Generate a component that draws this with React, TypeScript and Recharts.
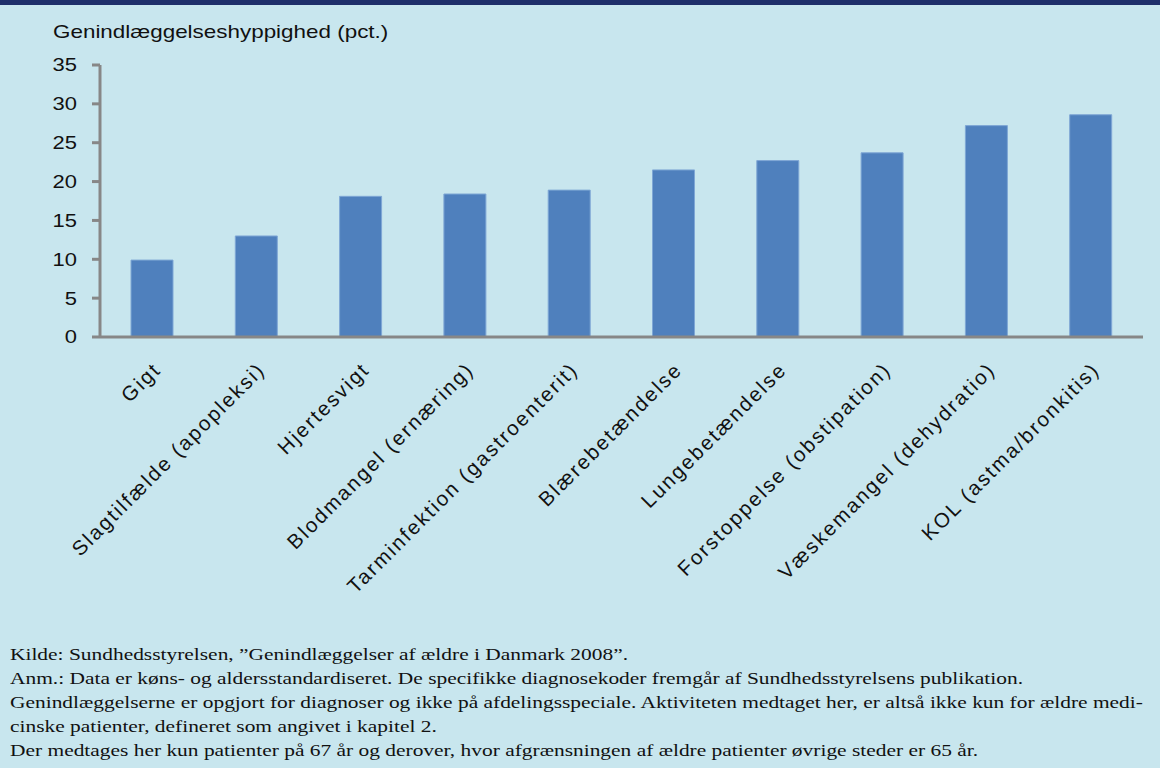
import { BarChart, Bar, XAxis, YAxis } from 'recharts';

const categories = [
  'Gigt',
  'Slagtilfælde (apopleksi)',
  'Hjertesvigt',
  'Blodmangel (ernæring)',
  'Tarminfektion (gastroenterit)',
  'Blærebetændelse',
  'Lungebetændelse',
  'Forstoppelse (obstipation)',
  'Væskemangel (dehydratio)',
  'KOL (astma/bronkitis)',
];
const values = [9.9, 13.0, 18.1, 18.4, 18.9, 21.5, 22.7, 23.7, 27.2, 28.6];
const yTicks = [0, 5, 10, 15, 20, 25, 30, 35];

const yTitle = 'Genindlæggelseshyppighed (pct.)';
const notes = [
  'Kilde: Sundhedsstyrelsen, ”Genindlæggelser af ældre i Danmark 2008”.',
  'Anm.: Data er køns- og aldersstandardiseret. De specifikke diagnosekoder fremgår af Sundhedsstyrelsens publikation.',
  'Genindlæggelserne er opgjort for diagnoser og ikke på afdelingsspeciale. Aktiviteten medtaget her, er altså ikke kun for ældre medi-',
  'cinske patienter, defineret som angivet i kapitel 2.',
  'Der medtages her kun patienter på 67 år og derover, hvor afgrænsningen af ældre patienter øvrige steder er 65 år.',
];

const data = categories.map((name, i) => ({ name, value: values[i] }));

const FONT = '"Liberation Sans", Arial, sans-serif';
const SERIF = '"Liberation Serif", "Times New Roman", serif';
const AXIS = '#878787';
const STRETCH = 1.22; // the source text is drawn a bit wide
const NOTE_STRETCH = 1.26;

// rotated category label, end of text sits just right of the bar centre
const XTick = (props: any) => {
  const { x, y, payload } = props;
  const ax = x + 10;
  const ay = y + 34;
  return (
    <text
      x={ax}
      y={ay}
      transform={`rotate(-45, ${ax}, ${ay})`}
      textAnchor="end"
      fontFamily={FONT}
      fontSize={20.5}
      letterSpacing={2.1}
      fill="#111"
    >
      {payload.value}
    </text>
  );
};

const YTick = (props: any) => {
  const { x, y, payload } = props;
  return (
    <text
      x={0}
      y={0}
      dy="0.36em"
      transform={`translate(${x}, ${y}) scale(${STRETCH}, 1)`}
      textAnchor="end"
      fontFamily={FONT}
      fontSize={18}
      fill="#111"
    >
      {payload.value}
    </text>
  );
};

export default function App() {
  return (
    <div
      style={{
        position: 'fixed',
        top: 0,
        left: 0,
        width: 1160,
        height: 768,
        background: '#C8E6EE',
        overflow: 'hidden',
      }}
    >
      <div style={{ position: 'absolute', top: 0, left: 0, width: 1160, height: 5, background: '#1E2F6A' }} />

      <div
        style={{
          position: 'absolute',
          left: 53,
          top: 22,
          fontFamily: FONT,
          fontSize: 19,
          lineHeight: '19px',
          color: '#111',
          whiteSpace: 'nowrap',
          transform: 'scaleX(1.18)',
          transformOrigin: 'left top',
        }}
      >
        {yTitle}
      </div>

      <div style={{ position: 'absolute', top: 0, left: 0 }}>
        <BarChart
          width={1160}
          height={640}
          data={data}
          margin={{ top: 65, right: 17, left: 0, bottom: 0 }}
        >
          <XAxis
            dataKey="name"
            interval={0}
            height={303}
            tickLine={false}
            tickSize={0}
            tickMargin={0}
            axisLine={{ stroke: AXIS, strokeWidth: 3 }}
            tick={<XTick />}
          />
          <YAxis
            width={100}
            domain={[0, 35]}
            ticks={yTicks}
            interval={0}
            tickSize={8}
            tickMargin={15}
            axisLine={{ stroke: AXIS, strokeWidth: 3 }}
            tickLine={{ stroke: AXIS, strokeWidth: 3 }}
            tick={<YTick />}
          />
          <Bar
            dataKey="value"
            barSize={42}
            fill="#4F80BD"
            stroke="#7FA7D5"
            strokeWidth={1}
            isAnimationActive={false}
          />
        </BarChart>
      </div>

      <div
        style={{
          position: 'absolute',
          left: 10,
          top: 643,
          fontFamily: SERIF,
          fontSize: 17,
          lineHeight: '24px',
          color: '#111',
          whiteSpace: 'nowrap',
          transform: `scaleX(${NOTE_STRETCH})`,
          transformOrigin: 'left top',
        }}
      >
        {notes.map((line, i) => (
          <div key={i}>{line}</div>
        ))}
      </div>
    </div>
  );
}
